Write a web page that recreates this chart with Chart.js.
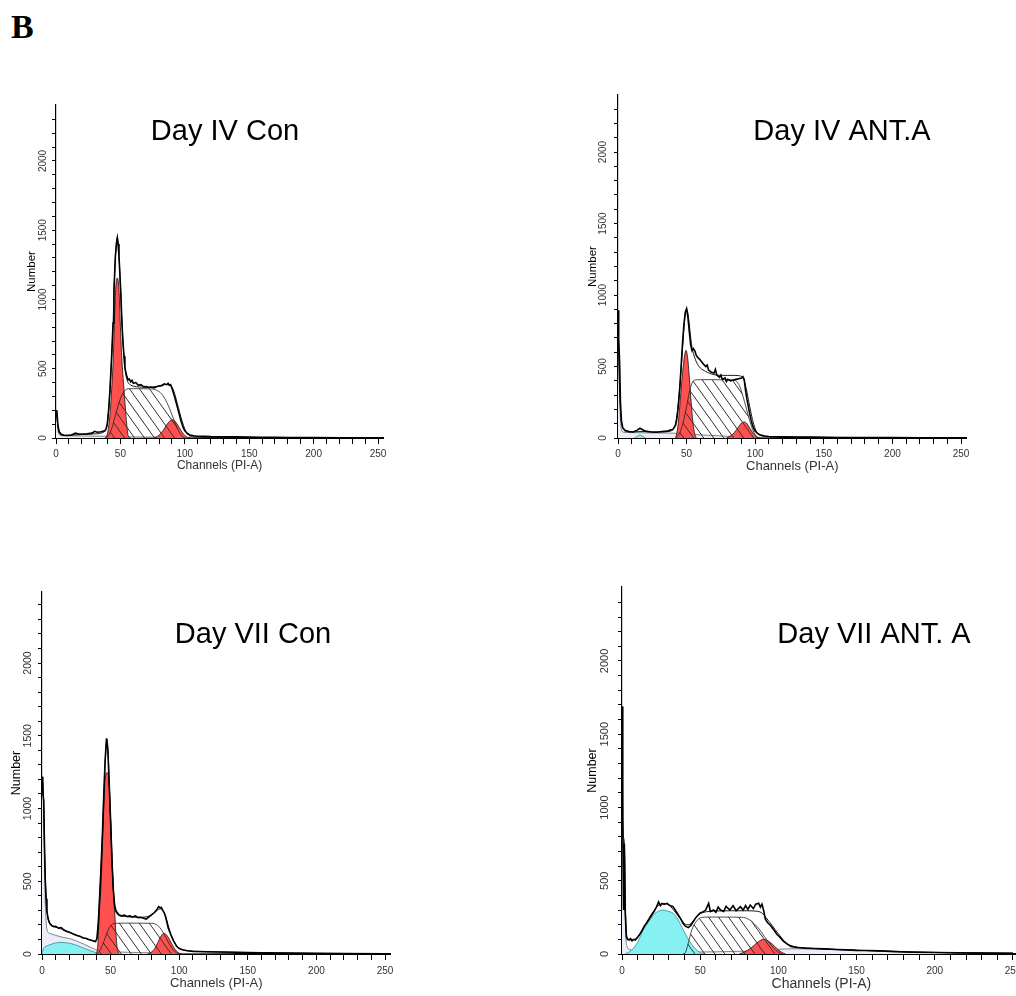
<!DOCTYPE html>
<html>
<head>
<meta charset="utf-8">
<script src="https://cdn.jsdelivr.net/npm/chart.js@4.4.1/dist/chart.umd.min.js"></script>
<style>
  html, body { margin: 0; padding: 0; background: #fff; }
  html { overflow: hidden; }
  body { width: 1016px; height: 996px; position: relative; overflow: hidden; }
  canvas { position: absolute; }
  #label-b { position: absolute; left: 11px; top: 8px; line-height: 34px; font: bold 34px "Liberation Serif", "Times New Roman", serif; }
</style>
</head>
<body>
<div id="label-b">B</div>
<script>
'use strict';

// axis ticks shared by the four histograms
var channelTicks = [0, 10, 20, 30, 40, 50, 60, 70, 80, 90, 100, 110, 120, 130, 140, 150, 160, 170, 180, 190, 200, 210, 220, 230, 240, 250];
var channelLabels = [0, 50, 100, 150, 200, 250];
var numberTicks = [0, 100, 200, 300, 400, 500, 600, 700, 800, 900, 1000, 1100, 1200, 1300, 1400, 1500, 1600, 1700, 1800, 1900, 2000, 2100, 2200, 2300, 2400];
var numberLabels = [0, 500, 1000, 1500, 2000];

var panelTitles = ['Day IV Con', 'Day IV ANT.A', 'Day VII Con', 'Day VII ANT. A'];

// Day IV Con
var p1RawCh = [0, 0.7, 1.5, 2.5, 4, 6, 9, 12, 15, 17, 20, 24, 28, 30, 32, 35, 38, 39, 39.9, 41, 41.9, 43.2, 44.3, 45, 46.1, 47, 47.6, 48.2, 48.9, 50.2, 51.2, 52, 52.8, 53.5, 54.3, 55, 56, 57, 58, 59, 60, 62, 64, 66, 68, 70, 72, 74, 76, 78, 80, 82, 84, 86, 87, 88, 89, 90, 91, 92, 93, 94, 95, 96, 97, 98, 99, 100, 102, 104, 107, 110, 115, 120, 130, 140, 150, 160, 170, 180, 190, 200, 220, 240, 250];
var p1RawN = [200, 190, 90, 45, 28, 20, 18, 22, 35, 30, 28, 30, 35, 48, 42, 45, 52, 70, 108, 220, 349, 590, 830, 1071, 1312, 1410, 1444, 1400, 1312, 1071, 830, 690, 590, 510, 469, 445, 420, 425, 405, 415, 395, 400, 380, 385, 370, 372, 365, 368, 362, 370, 375, 378, 390, 385, 395, 380, 385, 360, 330, 300, 265, 230, 195, 160, 125, 95, 70, 52, 32, 22, 16, 13, 12, 10, 9, 8, 6, 5, 5, 4, 3, 3, 2, 1, 1];
var p1FitCh = [0, 1, 2, 3, 5, 10, 20, 30, 36, 38.5, 40, 41.9, 43.2, 44.3, 45, 46.1, 47, 47.6, 48.2, 48.9, 50.2, 51.2, 52.8, 54, 55, 56, 58, 60, 65, 70, 75, 80, 84, 87, 89, 91, 93, 95, 97, 99, 101, 103, 106, 110, 130, 160, 200, 250];
var p1FitN = [190, 120, 50, 30, 20, 20, 25, 30, 38, 60, 110, 340, 580, 820, 1050, 1300, 1420, 1450, 1410, 1310, 1060, 830, 580, 470, 425, 400, 382, 374, 368, 366, 368, 375, 385, 388, 380, 350, 290, 220, 150, 90, 45, 20, 10, 7, 5, 3, 2, 1];
var p1G1Ch = [38, 39.3, 41.5, 43.2, 44.5, 45.3, 46.3, 47.6, 48.9, 49.9, 51.0, 52.8, 54.9, 56.2, 58];
var p1G1N = [0, 12, 130, 349, 590, 830, 1071, 1155, 1071, 830, 590, 349, 100, 12, 0];
var p1SCh = [38, 40, 42, 44, 46, 48, 50, 52, 54, 56, 60, 66, 72, 76, 78, 80, 82, 84, 86, 88, 90, 92, 94, 96, 98, 100];
var p1SN = [0, 10, 40, 90, 160, 225, 285, 325, 348, 355, 356, 356, 355, 352, 345, 335, 318, 292, 258, 215, 168, 120, 75, 38, 12, 0];
var p1G2Ch = [76, 78, 80, 82, 84, 86, 88, 90, 92, 94, 96, 98, 100, 102, 104];
var p1G2N = [0, 8, 20, 40, 65, 95, 120, 132, 125, 100, 70, 40, 18, 5, 0];
var p1DebCh = [0, 0.7, 1.5, 3, 6, 15, 25, 35, 42, 50, 60, 80, 100, 120, 150];
var p1DebN = [190, 180, 60, 22, 16, 15, 14, 13, 12, 10, 8, 6, 5, 3, 0];

// Day IV ANT.A
var p2RawCh = [0, 0.5, 1.2, 1.8, 2.5, 3.5, 5, 8, 11, 14, 16, 18, 20, 24, 28, 32, 36, 38, 40, 42, 43, 44, 45, 46, 47, 48, 49, 50, 51, 52, 53, 54, 55, 56, 57, 58, 60, 62, 64, 65, 66, 68, 70, 71, 72, 74, 75, 76, 78, 79, 80, 82, 84, 86, 88, 90, 91, 92, 93, 94, 95, 96, 97, 98, 99, 100, 102, 104, 107, 110, 115, 120, 130, 140, 150, 160, 180, 200, 220, 250];
var p2RawN = [893, 700, 520, 250, 120, 70, 55, 45, 42, 55, 68, 58, 48, 42, 40, 45, 48, 55, 60, 90, 140, 230, 350, 500, 660, 790, 880, 905, 840, 740, 650, 610, 625, 610, 580, 565, 545, 520, 500, 510, 475, 460, 455, 480, 440, 425, 440, 410, 420, 395, 410, 400, 405, 410, 415, 420, 430, 410, 330, 270, 220, 170, 125, 90, 65, 48, 30, 20, 14, 11, 9, 8, 7, 6, 5, 4, 3, 3, 2, 1];
var p2FitCh = [0, 0.5, 1.5, 2.5, 4, 6, 10, 15, 20, 30, 38, 41, 43, 45, 47, 48, 49, 50, 51, 52, 53, 54, 56, 58, 60, 64, 68, 72, 76, 80, 84, 88, 90, 92, 94, 96, 98, 100, 102, 105, 110, 130, 160, 200, 250];
var p2FitN = [893, 600, 250, 110, 60, 45, 42, 45, 45, 42, 48, 75, 160, 350, 620, 760, 860, 900, 870, 790, 700, 630, 560, 515, 490, 465, 448, 440, 438, 438, 438, 436, 430, 400, 320, 220, 130, 65, 30, 15, 10, 6, 4, 2, 1];
var p2G1Ch = [42, 43, 44, 45, 46, 47, 48, 49, 49.5, 50, 51, 52, 53, 54, 55, 56, 57];
var p2G1N = [0, 40, 110, 220, 340, 450, 540, 600, 613, 605, 540, 420, 290, 170, 80, 25, 0];
var p2SCh = [42, 44, 46, 48, 50, 52, 54, 56, 60, 70, 80, 85, 87, 89, 91, 93, 95, 97, 99, 101, 103];
var p2SN = [0, 20, 60, 130, 220, 320, 385, 405, 408, 408, 407, 403, 390, 355, 295, 225, 155, 90, 40, 10, 0];
var p2G2Ch = [79, 82, 85, 88, 90, 92, 94, 96, 98, 100, 102, 104];
var p2G2N = [0, 15, 40, 80, 105, 112, 100, 70, 40, 15, 3, 0];
var p2ApoCh = [12, 14, 16, 18, 20];
var p2ApoN = [0, 12, 20, 12, 0];
var p2DebCh = [0, 0.5, 1.5, 2.5, 4, 10, 20, 30, 40, 50, 60, 80, 100, 120];
var p2DebN = [890, 600, 200, 60, 40, 38, 36, 35, 34, 28, 22, 12, 5, 0];

// Day VII Con
var p3RawCh = [0, 0.6, 1.2, 1.8, 2.4, 3, 3.6, 4.5, 5.6, 7, 8.5, 10, 12, 14, 16, 18, 20, 22, 24, 26, 28, 30, 32, 34, 36, 38, 39, 40, 41, 42, 43, 44, 45, 46, 47, 48, 49, 50, 51, 52, 53, 54, 56, 58, 60, 62, 64, 66, 68, 70, 72, 74, 76, 78, 80, 82, 84, 85, 86, 87, 88, 89, 90, 91, 92, 94, 96, 98, 100, 103, 106, 110, 120, 130, 140, 150, 160, 180, 200, 220, 250];
var p3RawN = [1219, 1100, 1058, 750, 508, 380, 290, 240, 211, 195, 188, 190, 178, 182, 165, 155, 150, 140, 132, 125, 120, 110, 108, 100, 95, 88, 85, 105, 210, 394, 590, 820, 1090, 1330, 1482, 1400, 1160, 920, 640, 440, 330, 295, 270, 262, 268, 258, 262, 255, 262, 250, 252, 245, 240, 255, 270, 285, 310, 325, 318, 320, 300, 285, 258, 220, 178, 130, 88, 55, 38, 28, 22, 18, 15, 14, 12, 10, 8, 6, 4, 3, 2];
var p3FitCh = [0, 1.2, 2, 3, 4, 5, 7, 10, 14, 18, 22, 26, 30, 34, 38, 40, 41, 42, 43, 44, 45, 46, 47, 47.5, 48, 49, 50, 51, 52, 53, 54, 56, 60, 70, 76, 80, 84, 86, 88, 90, 92, 94, 96, 98, 100, 104, 110, 130, 160, 200, 250];
var p3FitN = [1219, 1058, 650, 380, 270, 225, 200, 185, 172, 158, 143, 127, 112, 100, 90, 105, 200, 380, 580, 810, 1070, 1310, 1460, 1475, 1420, 1190, 920, 645, 440, 330, 288, 265, 258, 252, 255, 270, 300, 310, 300, 262, 195, 135, 88, 55, 38, 26, 19, 14, 8, 4, 2];
var p3G1Ch = [39.5, 40.6, 41.8, 43.2, 44.0, 44.9, 45.9, 47.4, 48.8, 49.8, 50.8, 51.7, 53.0, 54.7, 56];
var p3G1N = [0, 50, 280, 509, 738, 967, 1196, 1246, 1196, 967, 738, 509, 280, 50, 0];
var p3SCh = [40, 42, 44, 46, 48, 50, 52, 54, 60, 70, 80, 82, 84, 86, 88, 90, 92, 94, 96, 98, 100];
var p3SN = [0, 20, 60, 110, 160, 195, 208, 211, 212, 212, 211, 208, 198, 180, 152, 118, 82, 50, 25, 8, 0];
var p3G2Ch = [77, 80, 82, 84, 86, 88, 89, 90, 92, 94, 96, 98, 100, 102];
var p3G2N = [0, 15, 35, 70, 110, 138, 142, 138, 115, 80, 45, 20, 5, 0];
var p3ApoCh = [0, 1, 2, 4, 7, 10, 13, 16, 20, 24, 28, 32, 36, 39, 42];
var p3ApoN = [0, 35, 48, 58, 68, 76, 80, 79, 74, 64, 50, 35, 20, 10, 0];
var p3DebCh = [0, 1.2, 2, 3, 4, 6, 10, 15, 20, 25, 30, 35, 39, 45, 55, 70, 90, 110, 140];
var p3DebN = [1210, 1050, 500, 230, 155, 140, 128, 115, 106, 90, 70, 48, 30, 20, 14, 10, 6, 3, 0];

// Day VII ANT. A
var p4RawCh = [0, 0.5, 1, 1.5, 2, 2.8, 3.5, 4.3, 5.5, 6.4, 7.5, 8.5, 10, 11.7, 13, 14.5, 16, 17.5, 19, 20.5, 22, 23.4, 24.5, 25.6, 27, 28.8, 30, 31, 32.5, 34, 35.5, 37.3, 39, 40.5, 42.4, 44, 45.5, 47, 48.5, 50, 52, 53.5, 55.4, 56.5, 58.6, 60, 61.5, 63, 65, 66.5, 69, 71, 73, 75.7, 77.5, 79, 80.5, 82, 84, 85.5, 87.4, 88.5, 89.5, 90.5, 91.6, 93, 95, 97, 99, 101, 103, 105, 108, 112, 117, 122.5, 130, 137, 144, 150, 157, 165, 175, 186, 200, 215, 230, 250];
var p4RawN = [1690, 900, 300, 755, 300, 118, 100, 96, 105, 90, 100, 96, 115, 141, 165, 195, 215, 240, 265, 290, 320, 355, 330, 345, 338, 346, 335, 330, 325, 300, 275, 245, 210, 190, 180, 195, 220, 245, 265, 280, 289, 300, 346, 290, 300, 285, 320, 300, 290, 325, 300, 330, 295, 323, 300, 330, 305, 334, 310, 340, 346, 320, 340, 300, 240, 215, 195, 165, 135, 115, 90, 72, 52, 44, 40, 38, 35, 31, 28, 25, 24, 21, 16, 12, 10, 8, 6, 5];
var p4FitCh = [0, 0.5, 1.5, 2.5, 3.5, 5, 7, 9, 11, 13, 15, 17, 19, 21, 23, 25, 27, 29, 31, 33, 35, 37, 39, 41, 43, 45, 47, 50, 55, 60, 70, 80, 85, 88, 90, 92, 94, 96, 98, 100, 102, 104, 107, 112, 120, 140, 160, 180, 200, 225, 250];
var p4FitN = [1690, 900, 755, 200, 110, 95, 97, 105, 125, 160, 200, 240, 275, 305, 330, 342, 345, 340, 325, 300, 272, 245, 220, 200, 200, 218, 245, 275, 290, 294, 295, 295, 293, 288, 275, 250, 222, 195, 165, 138, 110, 85, 62, 47, 39, 30, 22, 16, 11, 7, 5];
var p4SCh = [39, 40.3, 42, 44.6, 47, 49, 51, 55, 65, 77.6, 80, 83, 86, 88.2, 91, 94, 97, 100, 102.5];
var p4SN = [0, 5, 60, 164, 215, 240, 250, 252, 252, 250, 242, 222, 190, 164, 120, 78, 40, 12, 0];
var p4G2Ch = [75, 78, 81, 84, 87, 90.4, 93, 96, 99, 102, 104.5];
var p4G2N = [0, 12, 30, 55, 82, 100, 92, 68, 38, 12, 0];
var p4ApoCh = [2, 6, 10, 13.6, 17.9, 21.1, 24, 26.4, 29, 32.8, 36, 39.2, 43, 47, 50, 53];
var p4ApoN = [0, 25, 80, 164, 232, 277, 295, 300, 293, 277, 232, 164, 90, 35, 8, 0];
var p4DebCh = [0, 0.5, 1, 1.5, 2.2, 3, 5, 10, 20, 30, 40, 50, 60, 80, 100, 110, 130, 150, 175, 200, 250];
var p4DebN = [1690, 900, 300, 700, 200, 60, 30, 22, 18, 16, 14, 14, 15, 20, 32, 36, 32, 25, 16, 10, 5];

var FONT = '"Liberation Sans", Arial, Helvetica, sans-serif';
var RED = '#ff5050';
var CYAN = '#86f0f2';
var LAVENDER = '#ededf9';

var panels = [
  { title: panelTitles[0], raw: [p1RawCh, p1RawN], fit: [p1FitCh, p1FitN], g1: [p1G1Ch, p1G1N], s: [p1SCh, p1SN], g2: [p1G2Ch, p1G2N], apo: null, debris: [p1DebCh, p1DebN] },
  { title: panelTitles[1], raw: [p2RawCh, p2RawN], fit: [p2FitCh, p2FitN], g1: [p2G1Ch, p2G1N], s: [p2SCh, p2SN], g2: [p2G2Ch, p2G2N], apo: [p2ApoCh, p2ApoN], debris: [p2DebCh, p2DebN] },
  { title: panelTitles[2], raw: [p3RawCh, p3RawN], fit: [p3FitCh, p3FitN], g1: [p3G1Ch, p3G1N], s: [p3SCh, p3SN], g2: [p3G2Ch, p3G2N], apo: [p3ApoCh, p3ApoN], debris: [p3DebCh, p3DebN] },
  { title: panelTitles[3], raw: [p4RawCh, p4RawN], fit: [p4FitCh, p4FitN], g1: null, s: [p4SCh, p4SN], g2: [p4G2Ch, p4G2N], apo: [p4ApoCh, p4ApoN], debris: [p4DebCh, p4DebN] }
];

// where each plot sits on the page (the source panels were scaled differently)
var layouts = [
  { left: 56, top: 105, right: 383.2, bottom: 438, xMax: 254, yMax: 2404, titleX: 225, titleY: 140, yLabOff: 13, yLabSize: 10, nameOff: 24, nameSize: 11.5, xTitleSize: 12, xTitleOff: 28, xTickPad: 4 },
  { left: 618, top: 95, right: 966.5, bottom: 438, xMax: 254, yMax: 2399, titleX: 842, titleY: 140, yLabOff: 15, yLabSize: 10, nameOff: 25, nameSize: 11.5, xTitleSize: 13, xTitleOff: 28, xTickPad: 4 },
  { left: 42, top: 592, right: 390.5, bottom: 954, xMax: 254, yMax: 2488, titleX: 253, titleY: 643, yLabOff: 14, yLabSize: 10.5, nameOff: 25, nameSize: 12.5, xTitleSize: 13, xTitleOff: 29, xTickPad: 5.5 },
  { left: 622, top: 587, right: 1020.8, bottom: 954, xMax: 255, yMax: 2505, titleX: 874, titleY: 643, yLabOff: 17, yLabSize: 11, nameOff: 29, nameSize: 12.5, xTitleSize: 14, xTitleOff: 30, xTickPad: 5 }
];

function points(ch, n) {
  return ch.map(function(c, i) { return {x: c, y: n[i]}; });
}

function makeHatch() {
  var tile = document.createElement('canvas');
  tile.width = 10;
  tile.height = 14;
  var g = tile.getContext('2d');
  g.strokeStyle = '#333';
  g.lineWidth = 1;
  for (var dx = -10; dx <= 10; dx += 10) {
    g.beginPath();
    g.moveTo(dx - 2, -2.8);
    g.lineTo(dx + 12, 16.8);
    g.stroke();
  }
  return g.createPattern(tile, 'repeat');
}

function component(pair, fillColor, order, edge) {
  return {
    data: points(pair[0], pair[1]),
    fill: 'origin',
    backgroundColor: fillColor,
    borderColor: edge || '#111',
    borderWidth: 0.8,
    pointRadius: 0,
    cubicInterpolationMode: 'monotone',
    order: order
  };
}

function buildDatasets(p, hatch) {
  var sets = [];
  sets.push({ data: points(p.raw[0], p.raw[1]), fill: false, borderColor: '#000', borderWidth: 1.6, pointRadius: 0, tension: 0, order: 0 });
  sets.push({ data: points(p.fit[0], p.fit[1]), fill: false, borderColor: '#000', borderWidth: 0.9, pointRadius: 0, cubicInterpolationMode: 'monotone', order: 1 });
  sets.push(component(p.s, hatch, 2, '#222'));
  sets.push(component(p.g2, RED, 3));
  if (p.g1) sets.push(component(p.g1, RED, 4));
  if (p.apo) sets.push(component(p.apo, CYAN, 5, '#2a8f8f'));
  sets.push(component(p.debris, LAVENDER, 6, '#666'));
  return sets;
}

// rotated y labels, "Number" and the panel title
var panelText = {
  id: 'panelText',
  afterDraw: function(chart, args, opts) {
    var ctx = chart.ctx;
    var area = chart.chartArea;
    var yScale = chart.scales.y;
    ctx.save();
    ctx.textAlign = 'center';
    ctx.textBaseline = 'middle';
    ctx.fillStyle = '#333';
    ctx.font = opts.yLabSize + 'px ' + FONT;
    numberLabels.forEach(function(v) {
      ctx.save();
      ctx.translate(area.left - opts.yLabOff, yScale.getPixelForValue(v));
      ctx.rotate(-Math.PI / 2);
      ctx.fillText(String(v), 0, 0);
      ctx.restore();
    });
    ctx.fillStyle = '#000';
    ctx.font = opts.nameSize + 'px ' + FONT;
    ctx.translate(area.left - opts.nameOff, (area.top + area.bottom) / 2);
    ctx.rotate(-Math.PI / 2);
    ctx.fillText('Number', 0, 0);
    ctx.restore();

    ctx.save();
    ctx.font = '29px ' + FONT;
    ctx.fillStyle = '#000';
    ctx.textAlign = 'center';
    ctx.textBaseline = 'alphabetic';
    ctx.fillText(opts.title, opts.titleX, opts.titleY);
    ctx.restore();
  }
};

var hatch = makeHatch();

panels.forEach(function(p, i) {
  var L = layouts[i];
  var cLeft = L.left - 50;
  var cTop = L.top - 15;
  var cRight = Math.round(L.right + 12);
  var cBottom = L.bottom + 42;
  var xHeight = L.xTitleOff + L.xTitleSize * 0.6;

  var canvas = document.createElement('canvas');
  canvas.width = cRight - cLeft;
  canvas.height = cBottom - cTop;
  canvas.style.left = cLeft + 'px';
  canvas.style.top = cTop + 'px';
  document.body.appendChild(canvas);

  new Chart(canvas, {
    type: 'line',
    data: { datasets: buildDatasets(p, hatch) },
    options: {
      responsive: false,
      animation: false,
      layout: {
        autoPadding: false,
        padding: { left: 0, top: L.top - cTop, right: cRight - L.right, bottom: cBottom - L.bottom - xHeight }
      },
      plugins: {
        legend: { display: false },
        tooltip: { enabled: false },
        panelText: {
          title: p.title, titleX: L.titleX - cLeft, titleY: L.titleY - cTop,
          yLabOff: L.yLabOff, yLabSize: L.yLabSize, nameOff: L.nameOff, nameSize: L.nameSize
        }
      },
      scales: {
        x: {
          type: 'linear',
          min: 0,
          max: L.xMax,
          afterBuildTicks: function(scale) {
            scale.ticks = channelTicks.filter(function(v) { return v <= L.xMax; }).map(function(v) { return {value: v}; });
          },
          afterFit: function(scale) { scale.height = xHeight; },
          ticks: {
            autoSkip: false,
            maxRotation: 0,
            padding: L.xTickPad,
            color: '#333',
            font: { family: FONT, size: 10 },
            callback: function(v) { return channelLabels.indexOf(v) >= 0 ? String(v) : ''; }
          },
          grid: { drawOnChartArea: false, drawTicks: true, tickLength: 6, tickColor: '#000', tickWidth: 1 },
          border: { display: true, color: '#000', width: 2 },
          title: { display: true, text: 'Channels (PI-A)', color: '#333', font: { family: FONT, size: L.xTitleSize }, padding: 0 }
        },
        y: {
          type: 'linear',
          min: 0,
          max: L.yMax,
          afterBuildTicks: function(scale) {
            scale.ticks = numberTicks.filter(function(v) { return v <= L.yMax - 50; }).map(function(v) { return {value: v}; });
          },
          afterFit: function(scale) { scale.width = 50; },
          ticks: { autoSkip: false, padding: 0, callback: function() { return ''; } },
          grid: { drawOnChartArea: false, drawTicks: true, tickLength: 4, tickColor: '#000', tickWidth: 1 },
          border: { display: true, color: '#000', width: 1.2 }
        }
      }
    },
    plugins: [panelText]
  });
});
</script>
</body>
</html>
